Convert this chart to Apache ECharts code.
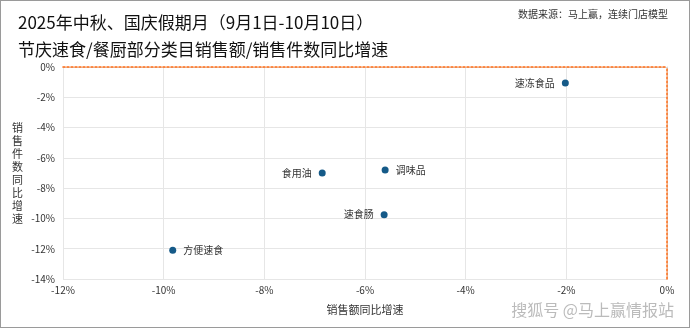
<!DOCTYPE html>
<html><head><meta charset="utf-8">
<script src="https://cdn.jsdelivr.net/npm/echarts@6/dist/echarts.min.js"></script>
<style>html,body{margin:0;padding:0;background:#fff}#c{width:690px;height:328px;box-sizing:border-box;border:1px solid #9a9a9a}</style>
</head><body><div id="c"></div>
<script>
const names = ['速冻食品','调味品','食用油','速食肠','方便速食'];
const salesGrowth = [-2.02, -5.6, -6.85, -5.62, -9.82];
const unitGrowth = [-1.05, -6.8, -7.0, -9.75, -12.1];
const labelSide = ['left','right','left','left','right'];
const xTicks = [-12,-10,-8,-6,-4,-2,0];
const yTicks = [0,-2,-4,-6,-8,-10,-12,-14];

const chart = echarts.init(document.getElementById('c'));
const font = '"Noto Sans CJK SC", sans-serif';
const orange = {show:true,lineStyle:{color:'#ff6a10',type:[2,2],width:1.5}};
chart.setOption({
  animation:false,
  textStyle:{fontFamily:font},
  title:[
    {text:'2025年中秋、国庆假期月（9月1日-10月10日）\n节庆速食/餐厨部分类目销售额/销售件数同比增速',left:12,top:3,
     textStyle:{fontSize:17,fontWeight:'normal',color:'#111',lineHeight:27,fontFamily:font}},
    {text:'数据来源：马上赢，连续门店模型',right:16,top:3,textStyle:{fontSize:10,fontWeight:'normal',color:'#333',fontFamily:font}},
    {text:'搜狐号 @马上赢情报站',right:10,bottom:4,textStyle:{fontSize:16,fontWeight:'normal',color:'#bbb',fontFamily:font}}
  ],
  grid:{left:62,right:22,top:66,bottom:48},
  xAxis:[{type:'value',min:-12,max:0,interval:2,
    name:'销售额同比增速',nameLocation:'middle',nameGap:25,nameTextStyle:{fontSize:11,color:'#333'},
    axisLine:{show:true,lineStyle:{color:'#d9d9d9'}},axisTick:{show:false},
    axisLabel:{formatter:v=>v+'%',fontSize:10,color:'#333',margin:6},
    splitLine:{show:true,lineStyle:{color:'#e6e6e6'}}},
    {type:'value',position:'top',min:-12,max:0,interval:2,z:10,axisLine:orange,
     axisTick:{show:false},axisLabel:{show:false},splitLine:{show:false}}],
  yAxis:[{type:'value',min:-14,max:0,interval:2,
    name:'销\n售\n件\n数\n同\n比\n增\n速',nameLocation:'middle',nameRotate:0,nameGap:40,
    nameTextStyle:{fontSize:11,color:'#333',lineHeight:13},
    axisLine:{show:true,lineStyle:{color:'#d9d9d9'}},axisTick:{show:false},
    axisLabel:{formatter:v=>v+'%',fontSize:10,color:'#333',margin:8},
    splitLine:{show:true,lineStyle:{color:'#e6e6e6'}}},
    {type:'value',position:'right',min:-14,max:0,interval:2,z:10,axisLine:orange,
     axisTick:{show:false},axisLabel:{show:false},splitLine:{show:false}}],
  series:[{type:'scatter',symbolSize:7,itemStyle:{color:'#155a88',opacity:1},z:5,
    data:names.map((n,i)=>({name:n,value:[salesGrowth[i],unitGrowth[i]],
      label:{show:true,position:labelSide[i],formatter:n,fontSize:10,color:'#333',distance:7}}))
  }]
});
</script></body></html>
